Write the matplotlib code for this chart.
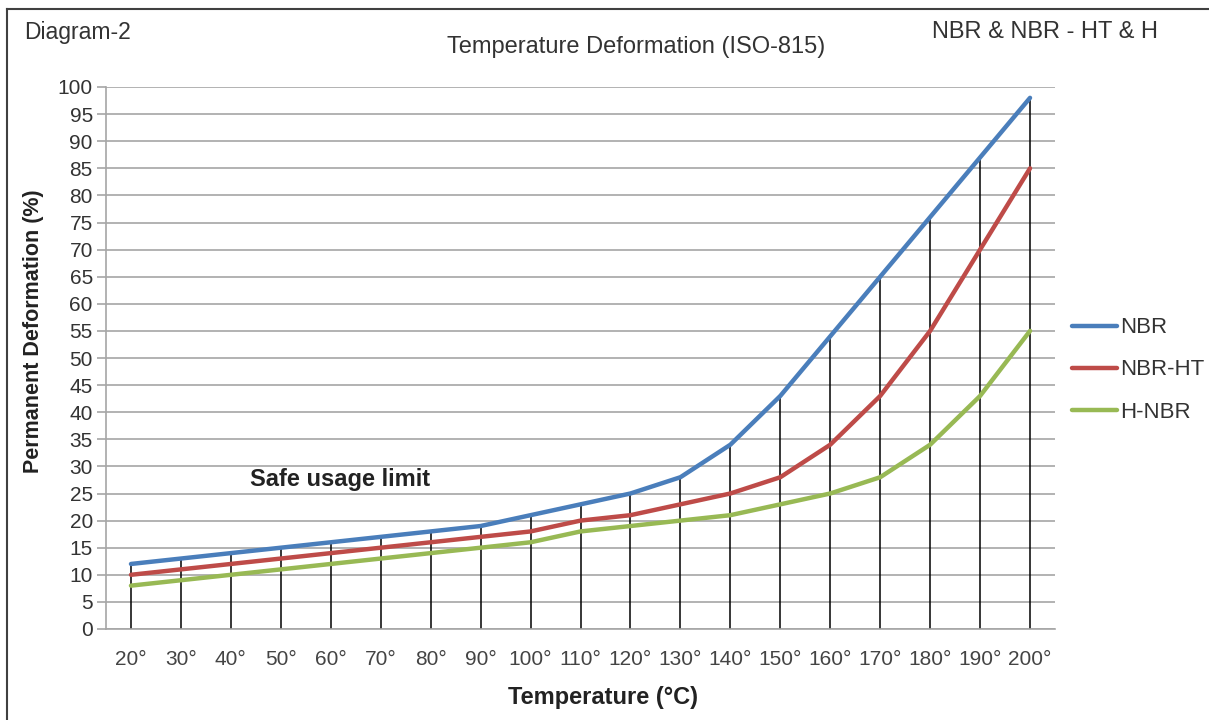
import matplotlib.pyplot as plt
import numpy as np

plt.rcParams['font.family'] = ['Liberation Sans', 'DejaVu Sans']

temps = ['20°', '30°', '40°', '50°', '60°', '70°', '80°', '90°', '100°', '110°',
         '120°', '130°', '140°', '150°', '160°', '170°', '180°', '190°', '200°']
nbr = [12, 13, 14, 15, 16, 17, 18, 19, 21, 23, 25, 28, 34, 43, 54, 65, 76, 87, 98]
nbr_ht = [10, 11, 12, 13, 14, 15, 16, 17, 18, 20, 21, 23, 25, 28, 34, 43, 55, 70, 85]
h_nbr = [8, 9, 10, 11, 12, 13, 14, 15, 16, 18, 19, 20, 21, 23, 25, 28, 34, 43, 55]
y_ticks = list(range(0, 101, 5))

fig = plt.figure(figsize=(12.09, 7.2), dpi=100)
ax = fig.add_axes([106 / 1209, 1 - 629 / 720, 949 / 1209, 542 / 720])

x = np.arange(len(temps))
top = np.maximum(np.maximum(nbr, nbr_ht), h_nbr)

# drop lines from 0 up to the highest curve
ax.vlines(x, 0, top, color='black', linewidth=1.1, zorder=2)

ax.plot(x, nbr, color='#4a7ebb', linewidth=3.2, label='NBR', zorder=3, solid_capstyle='round')
ax.plot(x, nbr_ht, color='#be4b48', linewidth=3.2, label='NBR-HT', zorder=3, solid_capstyle='round')
ax.plot(x, h_nbr, color='#98b954', linewidth=3.2, label='H-NBR', zorder=3, solid_capstyle='round')

ax.set_xlim(-0.5, len(temps) - 0.5)
ax.set_ylim(0, 100)
ax.set_yticks(y_ticks)
ax.set_xticks(x)
ax.set_xticklabels(temps)
ax.yaxis.grid(True, color='#a6a6a6', linewidth=1.2)
ax.set_axisbelow(True)

for s in ['top', 'right']:
    ax.spines[s].set_visible(False)
ax.spines['left'].set_color('#a6a6a6')
ax.spines['bottom'].set_color('#a6a6a6')
ax.spines['left'].set_linewidth(1.2)
ax.spines['bottom'].set_linewidth(1.2)
ax.tick_params(axis='y', length=6.5, width=1.2, color='#a6a6a6', labelsize=15,
               labelcolor='#333333', pad=3)
ax.tick_params(axis='x', length=0, labelsize=15, labelcolor='#444444', pad=15)

ax.set_xlabel('Temperature (°C)', fontsize=17, fontweight='bold', color='#222222')
ax.xaxis.set_label_coords(0.524, -0.105)
ax.set_ylabel('Permanent Deformation (%)', fontsize=15.5, fontweight='bold', color='#222222')
ax.yaxis.set_label_coords(-0.065, 0.55)

ax.text(2.38, 27.5, 'Safe usage limit', fontsize=17, fontweight='bold', color='#222222',
        va='center', ha='left')

leg = ax.legend(loc='center left', bbox_to_anchor=(0.997, 0.478), frameon=False, fontsize=16,
                handlelength=2.0, handletextpad=0.15, labelspacing=0.95)
for t in leg.get_texts():
    t.set_color('#333333')

fig.text(24 / 1209, 1 - 32 / 720, 'Diagram-2', fontsize=16.5, color='#333333', va='center')
fig.text(636 / 1209, 1 - 47 / 720, 'Temperature Deformation (ISO-815)', fontsize=17,
         color='#333333', va='center', ha='center')
fig.text(932 / 1209, 1 - 32 / 720, 'NBR & NBR - HT & H', fontsize=17, color='#333333',
         va='center')

# frame around the whole diagram (left and top edges visible)
fig.add_artist(plt.Line2D([7 / 1209, 7 / 1209], [0, 1 - 9 / 720], color='#404040',
                          linewidth=1.5, transform=fig.transFigure))
fig.add_artist(plt.Line2D([7 / 1209, 1], [1 - 9 / 720, 1 - 9 / 720], color='#404040',
                          linewidth=1.5, transform=fig.transFigure))

plt.savefig('out.png', dpi=100)
